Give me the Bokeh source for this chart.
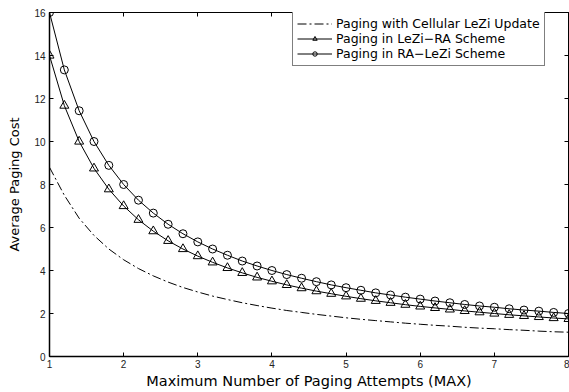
from bokeh.plotting import figure
from bokeh.models import Range1d, FixedTicker, LinearAxis, Legend, LegendItem, CustomJSTickFormatter
from bokeh.embed import file_html
from bokeh.resources import INLINE

# x: maximum number of paging attempts
max_attempts = [1.0, 1.2, 1.4, 1.6, 1.8, 2.0, 2.2, 2.4, 2.6, 2.8, 3.0, 3.2, 3.4, 3.6, 3.8,
                4.0, 4.2, 4.4, 4.6, 4.8, 5.0, 5.2, 5.4, 5.6, 5.8, 6.0, 6.2, 6.4, 6.6, 6.8,
                7.0, 7.2, 7.4, 7.6, 7.8, 8.0]

cellular_lezi = [8.80, 7.50, 6.43, 5.63, 5.00, 4.50, 4.09, 3.75, 3.46, 3.21, 3.00, 2.81,
                 2.65, 2.50, 2.37, 2.25, 2.14, 2.05, 1.96, 1.88, 1.80, 1.73, 1.67, 1.61,
                 1.55, 1.50, 1.45, 1.41, 1.36, 1.32, 1.29, 1.25, 1.22, 1.18, 1.15, 1.13]

lezi_ra = [14.00, 11.67, 10.00, 8.75, 7.78, 7.00, 6.36, 5.83, 5.38, 5.00, 4.67, 4.38,
           4.12, 3.89, 3.68, 3.50, 3.33, 3.18, 3.04, 2.92, 2.80, 2.69, 2.59, 2.50,
           2.41, 2.33, 2.26, 2.19, 2.12, 2.06, 2.00, 1.94, 1.89, 1.84, 1.79, 1.75]

ra_lezi = [16.00, 13.33, 11.43, 10.00, 8.89, 8.00, 7.27, 6.67, 6.15, 5.71, 5.33, 5.00,
           4.71, 4.44, 4.21, 4.00, 3.81, 3.64, 3.48, 3.33, 3.20, 3.08, 2.96, 2.86,
           2.76, 2.67, 2.58, 2.50, 2.42, 2.35, 2.29, 2.22, 2.16, 2.11, 2.05, 2.00]

x_ticks = [1, 2, 3, 4, 5, 6, 7, 8]
y_ticks = [0, 2, 4, 6, 8, 10, 12, 14, 16]

labels = ["Paging with Cellular LeZi Update",
          "Paging in LeZi\u2212RA Scheme",
          "Paging in RA\u2212LeZi Scheme"]

p = figure(width=569, height=392, output_backend="svg", toolbar_location=None,
           x_range=Range1d(1, 8), y_range=Range1d(0, 16),
           min_border_left=49, min_border_right=1, min_border_top=12, min_border_bottom=36)
p.background_fill_color = "white"
p.border_fill_color = "white"
p.outline_line_color = "black"
p.outline_line_width = 1
p.xgrid.visible = False
p.ygrid.visible = False

tick_font = "Liberation Sans"
title_font = "DejaVu Sans"

for ax, ticks in ((p.xaxis[0], x_ticks), (p.yaxis[0], y_ticks)):
    ax.ticker = FixedTicker(ticks=ticks)
    ax.minor_tick_line_color = None
    ax.major_tick_in = 4
    ax.major_tick_out = 0
    ax.axis_line_width = 1.5
    ax.axis_line_color = "black"
    ax.major_tick_line_color = "black"
    ax.major_label_text_font = tick_font
    ax.major_label_text_font_size = "10px"
    ax.major_label_text_color = "#222222"
    ax.axis_label_text_font = title_font
    ax.axis_label_text_font_style = "normal"
    ax.axis_label_text_color = "black"

p.xaxis.axis_label = "Maximum Number of Paging Attempts (MAX)"
p.xaxis.axis_label_text_font_size = "14.5px"
p.xaxis.major_label_standoff = 3
p.xaxis.axis_label_standoff = 2
p.yaxis.axis_label = "Average Paging Cost"
p.yaxis.axis_label_text_font_size = "13px"
p.yaxis.major_label_standoff = 4
p.yaxis.axis_label_standoff = 9

top = LinearAxis(ticker=FixedTicker(ticks=x_ticks), major_tick_in=4, major_tick_out=0,
                 minor_tick_line_color=None, formatter=CustomJSTickFormatter(code="return ''"),
                 major_label_standoff=0, axis_line_width=1)
right = LinearAxis(ticker=FixedTicker(ticks=y_ticks), major_tick_in=4, major_tick_out=0,
                   minor_tick_line_color=None, formatter=CustomJSTickFormatter(code="return ''"),
                   major_label_standoff=0, axis_line_width=1)
p.add_layout(top, "above")
p.add_layout(right, "right")

r1 = p.line(max_attempts, cellular_lezi, line_color="black", line_width=1,
            line_dash="9 3 2 3")
r2l = p.line(max_attempts, lezi_ra, line_color="black", line_width=1)
r2m = p.scatter(max_attempts, lezi_ra, marker="triangle", size=9, line_color="black",
                fill_alpha=0, line_width=1)
r3l = p.line(max_attempts, ra_lezi, line_color="black", line_width=1)
r3m = p.scatter(max_attempts, ra_lezi, marker="circle", size=8, line_color="black",
                fill_alpha=0, line_width=1)

legend = Legend(items=[LegendItem(label=labels[0], renderers=[r1]),
                       LegendItem(label=labels[1], renderers=[r2l, r2m]),
                       LegendItem(label=labels[2], renderers=[r3l, r3m])],
                location=(243, 290), orientation="vertical",
                label_text_font=title_font, label_text_font_size="12.5px",
                label_text_color="black",
                label_height=11, glyph_height=11, glyph_width=35, label_standoff=4,
                spacing=0, padding=4, margin=0,
                border_line_color="black", border_line_width=1,
                background_fill_color="white", background_fill_alpha=1)
p.add_layout(legend, "center")

open("out.html", "w").write(file_html(p, INLINE))
